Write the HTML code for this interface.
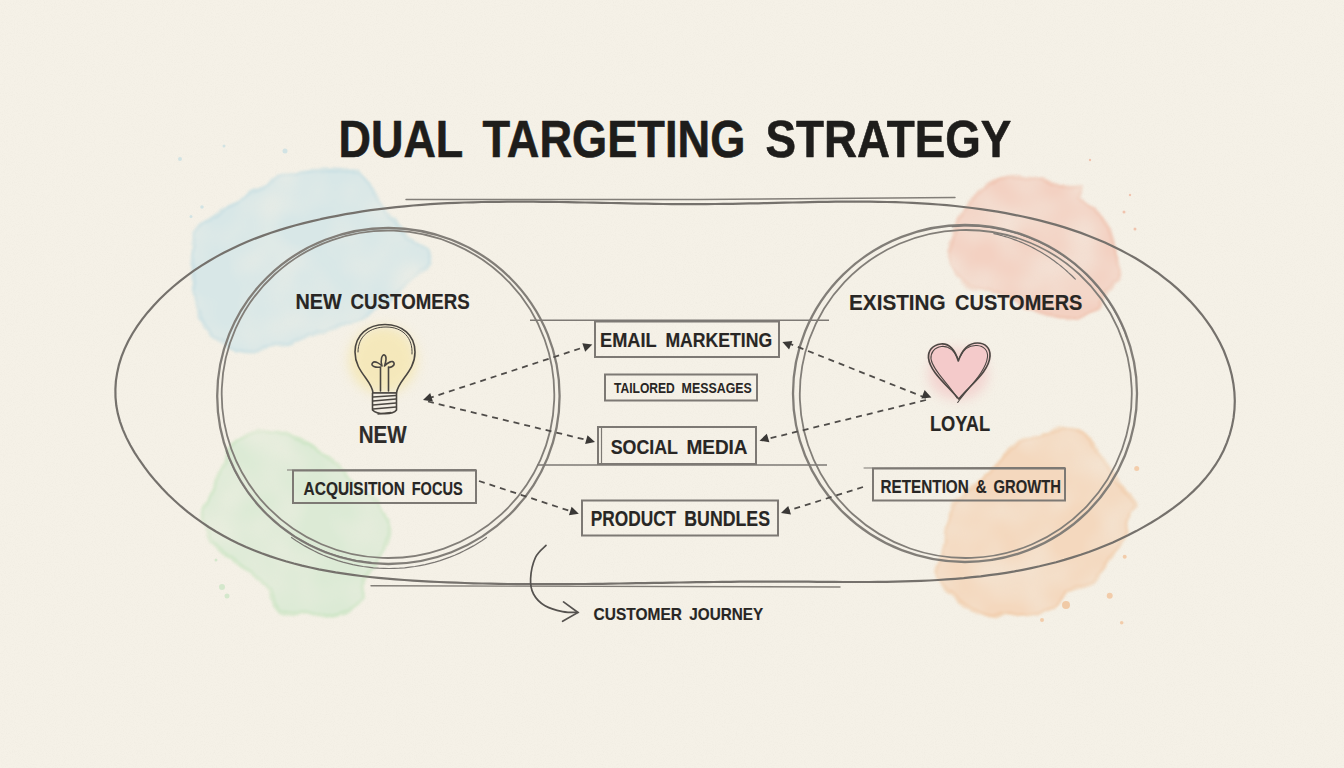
<!DOCTYPE html>
<html><head><meta charset="utf-8"><style>
html,body{margin:0;padding:0;width:1344px;height:768px;overflow:hidden;background:#f5f1e7;}
svg{display:block;font-family:"Liberation Sans",sans-serif;}
</style></head><body>
<svg width="1344" height="768" viewBox="0 0 1344 768">
<defs>
<filter id="wc1" x="-20%" y="-20%" width="140%" height="140%"><feTurbulence type="fractalNoise" baseFrequency="0.035" numOctaves="3" seed="7" result="n"/><feDisplacementMap in="SourceGraphic" in2="n" scale="10" xChannelSelector="R" yChannelSelector="G" result="d"/><feTurbulence type="fractalNoise" baseFrequency="0.02" numOctaves="2" seed="13" result="n2"/><feColorMatrix in="n2" type="matrix" values="0 0 0 0 0  0 0 0 0 0  0 0 0 0 0  0 0 0 1.2 0.25" result="m"/><feComposite in="d" in2="m" operator="in" result="c"/><feGaussianBlur in="c" stdDeviation="0.8"/></filter>
<filter id="wc2" x="-20%" y="-20%" width="140%" height="140%"><feTurbulence type="fractalNoise" baseFrequency="0.035" numOctaves="3" seed="14" result="n"/><feDisplacementMap in="SourceGraphic" in2="n" scale="10" xChannelSelector="R" yChannelSelector="G" result="d"/><feTurbulence type="fractalNoise" baseFrequency="0.02" numOctaves="2" seed="26" result="n2"/><feColorMatrix in="n2" type="matrix" values="0 0 0 0 0  0 0 0 0 0  0 0 0 0 0  0 0 0 1.2 0.25" result="m"/><feComposite in="d" in2="m" operator="in" result="c"/><feGaussianBlur in="c" stdDeviation="0.8"/></filter>
<filter id="wc3" x="-20%" y="-20%" width="140%" height="140%"><feTurbulence type="fractalNoise" baseFrequency="0.035" numOctaves="3" seed="21" result="n"/><feDisplacementMap in="SourceGraphic" in2="n" scale="10" xChannelSelector="R" yChannelSelector="G" result="d"/><feTurbulence type="fractalNoise" baseFrequency="0.02" numOctaves="2" seed="39" result="n2"/><feColorMatrix in="n2" type="matrix" values="0 0 0 0 0  0 0 0 0 0  0 0 0 0 0  0 0 0 1.2 0.25" result="m"/><feComposite in="d" in2="m" operator="in" result="c"/><feGaussianBlur in="c" stdDeviation="0.8"/></filter>
<filter id="wc4" x="-20%" y="-20%" width="140%" height="140%"><feTurbulence type="fractalNoise" baseFrequency="0.035" numOctaves="3" seed="28" result="n"/><feDisplacementMap in="SourceGraphic" in2="n" scale="10" xChannelSelector="R" yChannelSelector="G" result="d"/><feTurbulence type="fractalNoise" baseFrequency="0.02" numOctaves="2" seed="52" result="n2"/><feColorMatrix in="n2" type="matrix" values="0 0 0 0 0  0 0 0 0 0  0 0 0 0 0  0 0 0 1.2 0.25" result="m"/><feComposite in="d" in2="m" operator="in" result="c"/><feGaussianBlur in="c" stdDeviation="0.8"/></filter>
<filter id="paper" x="0" y="0" width="100%" height="100%"><feTurbulence type="fractalNoise" baseFrequency="0.9" numOctaves="2" seed="5" result="n"/><feColorMatrix in="n" type="matrix" values="0 0 0 0 0.45  0 0 0 0 0.42  0 0 0 0 0.36  0 0 0 -2.2 1.25"/></filter>
<filter id="soft" x="-20%" y="-20%" width="140%" height="140%"><feGaussianBlur stdDeviation="1.2"/></filter>
<filter id="soft2" x="-20%" y="-20%" width="140%" height="140%"><feGaussianBlur stdDeviation="2"/></filter>
<filter id="glow" x="-60%" y="-60%" width="220%" height="220%"><feGaussianBlur stdDeviation="6"/></filter>
</defs>
<rect width="1344" height="768" fill="#f5f1e7"/>
<rect width="1344" height="768" filter="url(#paper)" opacity="0.06"/>
<g filter="url(#wc1)">
<path d="M263.0,187.0 C271.8,182.2 279.0,176.8 291.0,174.0 C303.0,171.2 323.0,169.4 335.0,170.0 C347.0,170.6 355.7,172.1 363.0,177.5 C370.3,182.9 372.2,193.4 379.0,202.5 C385.8,211.6 395.8,224.1 404.0,232.0 C412.2,239.9 424.3,244.3 428.0,250.0 C431.7,255.7 429.2,260.8 426.0,266.0 C422.8,271.2 415.7,274.8 409.0,281.0 C402.3,287.2 395.0,296.5 386.0,303.0 C377.0,309.5 366.8,315.0 355.0,320.0 C343.2,325.0 326.8,328.8 315.0,333.0 C303.2,337.2 294.5,342.2 284.0,345.0 C273.5,347.8 261.7,350.2 252.0,350.0 C242.3,349.8 233.7,347.7 226.0,344.0 C218.3,340.3 210.8,334.3 206.0,328.0 C201.2,321.7 199.2,314.0 197.0,306.0 C194.8,298.0 193.5,289.3 193.0,280.0 C192.5,270.7 193.3,258.7 194.0,250.0 C194.7,241.3 193.8,233.7 197.0,228.0 C200.2,222.3 206.2,220.2 213.0,216.0 C219.8,211.8 229.7,207.3 238.0,202.5 C246.3,197.7 254.2,191.8 263.0,187.0 Z" fill="#d8e7e7" opacity="1.00"/>
<path d="M263.0,187.0 C271.8,182.2 279.0,176.8 291.0,174.0 C303.0,171.2 323.0,169.4 335.0,170.0 C347.0,170.6 355.7,172.1 363.0,177.5 C370.3,182.9 372.2,193.4 379.0,202.5 C385.8,211.6 395.8,224.1 404.0,232.0 C412.2,239.9 424.3,244.3 428.0,250.0 C431.7,255.7 429.2,260.8 426.0,266.0 C422.8,271.2 415.7,274.8 409.0,281.0 C402.3,287.2 395.0,296.5 386.0,303.0 C377.0,309.5 366.8,315.0 355.0,320.0 C343.2,325.0 326.8,328.8 315.0,333.0 C303.2,337.2 294.5,342.2 284.0,345.0 C273.5,347.8 261.7,350.2 252.0,350.0 C242.3,349.8 233.7,347.7 226.0,344.0 C218.3,340.3 210.8,334.3 206.0,328.0 C201.2,321.7 199.2,314.0 197.0,306.0 C194.8,298.0 193.5,289.3 193.0,280.0 C192.5,270.7 193.3,258.7 194.0,250.0 C194.7,241.3 193.8,233.7 197.0,228.0 C200.2,222.3 206.2,220.2 213.0,216.0 C219.8,211.8 229.7,207.3 238.0,202.5 C246.3,197.7 254.2,191.8 263.0,187.0 Z" fill="none" stroke="#c2dde2" stroke-width="4" opacity="0.55"/>
</g>
<g filter="url(#wc2)">
<path d="M981.6,189.6 C987.8,185.0 996.5,178.7 1006.0,177.0 C1015.5,175.3 1028.2,178.0 1038.5,179.7 C1048.8,181.4 1060.6,185.8 1068.0,187.0 C1075.4,188.2 1080.9,184.9 1083.0,187.0 C1085.1,189.1 1078.6,195.3 1080.6,199.5 C1082.6,203.7 1090.1,206.7 1095.0,212.0 C1099.9,217.3 1106.2,223.4 1110.0,231.6 C1113.8,239.8 1116.0,253.2 1117.7,261.0 C1119.4,268.8 1122.5,273.6 1120.0,278.6 C1117.5,283.6 1106.7,286.1 1103.0,291.0 C1099.3,295.9 1103.0,303.5 1098.0,308.0 C1093.0,312.5 1082.9,317.2 1073.0,318.0 C1063.1,318.8 1048.8,316.3 1038.5,313.0 C1028.2,309.7 1021.8,302.5 1011.0,298.4 C1000.2,294.3 983.4,292.6 974.0,288.5 C964.6,284.4 958.5,279.4 954.4,273.7 C950.3,267.9 949.1,261.4 949.5,254.0 C949.9,246.6 953.8,237.3 957.0,229.0 C960.2,220.7 964.9,211.0 969.0,204.4 C973.1,197.8 975.4,194.2 981.6,189.6 Z" fill="#f3d1c2" opacity="1.00"/>
<path d="M981.6,189.6 C987.8,185.0 996.5,178.7 1006.0,177.0 C1015.5,175.3 1028.2,178.0 1038.5,179.7 C1048.8,181.4 1060.6,185.8 1068.0,187.0 C1075.4,188.2 1080.9,184.9 1083.0,187.0 C1085.1,189.1 1078.6,195.3 1080.6,199.5 C1082.6,203.7 1090.1,206.7 1095.0,212.0 C1099.9,217.3 1106.2,223.4 1110.0,231.6 C1113.8,239.8 1116.0,253.2 1117.7,261.0 C1119.4,268.8 1122.5,273.6 1120.0,278.6 C1117.5,283.6 1106.7,286.1 1103.0,291.0 C1099.3,295.9 1103.0,303.5 1098.0,308.0 C1093.0,312.5 1082.9,317.2 1073.0,318.0 C1063.1,318.8 1048.8,316.3 1038.5,313.0 C1028.2,309.7 1021.8,302.5 1011.0,298.4 C1000.2,294.3 983.4,292.6 974.0,288.5 C964.6,284.4 958.5,279.4 954.4,273.7 C950.3,267.9 949.1,261.4 949.5,254.0 C949.9,246.6 953.8,237.3 957.0,229.0 C960.2,220.7 964.9,211.0 969.0,204.4 C973.1,197.8 975.4,194.2 981.6,189.6 Z" fill="none" stroke="#efbfab" stroke-width="4" opacity="0.55"/>
</g>
<g filter="url(#wc3)">
<path d="M245.9,434.0 C252.4,431.0 260.8,430.0 269.8,431.0 C278.8,432.0 289.8,435.5 299.8,440.0 C309.8,444.5 321.7,452.0 329.7,458.0 C337.7,464.0 340.7,469.0 347.7,476.0 C354.7,483.0 364.6,492.0 371.6,500.0 C378.6,508.0 387.1,515.8 389.6,523.8 C392.1,531.8 390.6,538.7 386.6,547.7 C382.6,556.7 370.1,568.7 365.6,577.7 C361.1,586.7 365.6,595.6 359.6,601.6 C353.6,607.6 341.7,611.6 329.7,613.6 C317.7,615.6 296.8,615.1 287.8,613.6 C278.8,612.1 281.3,610.6 275.8,604.6 C270.3,598.6 263.3,586.2 254.8,577.7 C246.3,569.2 232.9,560.7 224.9,553.7 C216.9,546.7 210.7,542.7 207.0,535.7 C203.3,528.7 201.5,519.3 202.5,511.8 C203.5,504.3 209.8,497.8 213.0,490.8 C216.2,483.8 219.0,477.0 222.0,470.0 C225.0,463.0 227.0,455.0 231.0,449.0 C235.0,443.0 239.4,437.0 245.9,434.0 Z" fill="#dceAd5" opacity="1.00"/>
<path d="M245.9,434.0 C252.4,431.0 260.8,430.0 269.8,431.0 C278.8,432.0 289.8,435.5 299.8,440.0 C309.8,444.5 321.7,452.0 329.7,458.0 C337.7,464.0 340.7,469.0 347.7,476.0 C354.7,483.0 364.6,492.0 371.6,500.0 C378.6,508.0 387.1,515.8 389.6,523.8 C392.1,531.8 390.6,538.7 386.6,547.7 C382.6,556.7 370.1,568.7 365.6,577.7 C361.1,586.7 365.6,595.6 359.6,601.6 C353.6,607.6 341.7,611.6 329.7,613.6 C317.7,615.6 296.8,615.1 287.8,613.6 C278.8,612.1 281.3,610.6 275.8,604.6 C270.3,598.6 263.3,586.2 254.8,577.7 C246.3,569.2 232.9,560.7 224.9,553.7 C216.9,546.7 210.7,542.7 207.0,535.7 C203.3,528.7 201.5,519.3 202.5,511.8 C203.5,504.3 209.8,497.8 213.0,490.8 C216.2,483.8 219.0,477.0 222.0,470.0 C225.0,463.0 227.0,455.0 231.0,449.0 C235.0,443.0 239.4,437.0 245.9,434.0 Z" fill="none" stroke="#c3e2bb" stroke-width="4" opacity="0.55"/>
</g>
<g filter="url(#wc4)">
<path d="M1034.8,437.0 C1043.8,433.5 1058.3,427.5 1067.8,428.0 C1077.3,428.5 1085.7,434.5 1091.7,440.0 C1097.7,445.5 1099.7,454.0 1103.7,461.0 C1107.7,468.0 1110.7,475.0 1115.7,482.0 C1120.7,489.0 1131.7,496.9 1133.7,502.9 C1135.7,508.9 1129.7,511.3 1127.7,517.8 C1125.7,524.3 1127.2,531.8 1121.7,541.8 C1116.2,551.8 1103.7,569.8 1094.7,577.8 C1085.7,585.8 1074.3,584.7 1067.8,589.7 C1061.3,594.7 1062.8,603.7 1055.8,607.7 C1048.8,611.7 1036.8,612.7 1025.8,613.7 C1014.8,614.7 1000.9,615.7 989.9,613.7 C978.9,611.7 968.9,607.7 959.9,601.7 C950.9,595.7 938.5,586.8 936.0,577.8 C933.5,568.8 943.0,556.8 945.0,547.8 C947.0,538.8 945.5,531.8 948.0,523.8 C950.5,515.8 952.9,508.9 959.9,499.9 C966.9,490.9 980.9,478.5 989.9,470.0 C998.9,461.5 1006.3,454.5 1013.8,449.0 C1021.3,443.5 1025.8,440.5 1034.8,437.0 Z" fill="#f4d8be" opacity="1.00"/>
<path d="M1034.8,437.0 C1043.8,433.5 1058.3,427.5 1067.8,428.0 C1077.3,428.5 1085.7,434.5 1091.7,440.0 C1097.7,445.5 1099.7,454.0 1103.7,461.0 C1107.7,468.0 1110.7,475.0 1115.7,482.0 C1120.7,489.0 1131.7,496.9 1133.7,502.9 C1135.7,508.9 1129.7,511.3 1127.7,517.8 C1125.7,524.3 1127.2,531.8 1121.7,541.8 C1116.2,551.8 1103.7,569.8 1094.7,577.8 C1085.7,585.8 1074.3,584.7 1067.8,589.7 C1061.3,594.7 1062.8,603.7 1055.8,607.7 C1048.8,611.7 1036.8,612.7 1025.8,613.7 C1014.8,614.7 1000.9,615.7 989.9,613.7 C978.9,611.7 968.9,607.7 959.9,601.7 C950.9,595.7 938.5,586.8 936.0,577.8 C933.5,568.8 943.0,556.8 945.0,547.8 C947.0,538.8 945.5,531.8 948.0,523.8 C950.5,515.8 952.9,508.9 959.9,499.9 C966.9,490.9 980.9,478.5 989.9,470.0 C998.9,461.5 1006.3,454.5 1013.8,449.0 C1021.3,443.5 1025.8,440.5 1034.8,437.0 Z" fill="none" stroke="#f1c7a0" stroke-width="4" opacity="0.55"/>
</g>
<g opacity="0.8">
<circle cx="180.0" cy="159.0" r="2.0" fill="#c9e0e3"/>
<circle cx="285.0" cy="151.0" r="2.5" fill="#c9e0e3"/>
<circle cx="202.0" cy="207.0" r="1.8" fill="#c9e0e3"/>
<circle cx="191.0" cy="216.5" r="1.5" fill="#c9e0e3"/>
<circle cx="224.0" cy="146.0" r="1.5" fill="#c9e0e3"/>
<circle cx="1124.0" cy="212.0" r="1.5" fill="#f0b9a0"/>
<circle cx="1135.0" cy="229.0" r="1.5" fill="#f0b9a0"/>
<circle cx="1130.0" cy="195.0" r="1.2" fill="#f0b9a0"/>
<circle cx="1090.0" cy="160.0" r="1.2" fill="#f0b9a0"/>
<circle cx="1136.7" cy="468.4" r="2.5" fill="#f2c49c"/>
<circle cx="1109.7" cy="595.7" r="3.0" fill="#f2c49c"/>
<circle cx="1121.7" cy="622.7" r="1.8" fill="#f2c49c"/>
<circle cx="1124.7" cy="556.8" r="2.0" fill="#f2c49c"/>
<circle cx="1066.0" cy="605.0" r="4.0" fill="#f0c197"/>
<circle cx="1042.0" cy="620.0" r="2.0" fill="#f2c49c"/>
<circle cx="222.0" cy="587.0" r="3.0" fill="#cde6c6"/>
<circle cx="227.0" cy="596.0" r="2.5" fill="#cde6c6"/>
<circle cx="216.0" cy="560.0" r="1.5" fill="#cde6c6"/>
</g>
<circle cx="383" cy="360" r="34" fill="#f5e6ad" opacity="0.75" filter="url(#glow)"/>
<ellipse cx="958" cy="374" rx="30" ry="26" fill="#f3c9c8" opacity="0.7" filter="url(#glow)"/>
<path d="M958.5,360 C954,347 947,343.5 941,344 C932,345 928,351 928.5,358 C930,372 947,385 958.8,399 C970,385 989,372 990,356 C990.5,348 985,343 977.5,343 C968,343 962,350 958.5,360 Z" fill="#f4caca" filter="url(#soft)"/>
<g fill="none" stroke="#75716c" stroke-width="2.2" stroke-linecap="round">
<path d="M320.5,219.2 L328.9,217.4 L337.2,215.8 L345.6,214.2 L354.0,212.8 L362.4,211.4 L370.8,210.2 L379.3,209.1 L387.7,208.1 L396.2,207.1 L404.7,206.3 L413.2,205.5 L421.7,204.8 L430.2,204.2 L438.7,203.7 L447.3,203.2 L455.8,202.9 L464.4,202.5 L473.0,202.3 L481.6,202.0 L490.2,201.9 L498.8,201.8 L507.4,201.7 L516.0,201.7 L524.6,201.7 L533.2,201.7 L541.9,201.8 L550.5,201.9 L559.2,202.0 L567.8,202.2 L576.5,202.3 L585.1,202.5 L593.8,202.7 L602.4,202.9 L611.1,203.0 L619.8,203.2 L628.4,203.4 L637.1,203.6 L645.8,203.7 L654.4,203.9 L663.1,204.0 L671.8,204.1 L680.4,204.1 L689.1,204.2 L697.7,204.2 L706.4,204.1 L715.0,204.0 L723.7,203.9 L732.3,203.8 L741.0,203.6 L749.6,203.4 L758.2,203.3 L766.9,203.1 L775.5,202.9 L784.1,202.6 L792.7,202.5 L801.3,202.3 L809.9,202.1 L818.5,201.9 L827.1,201.8 L835.7,201.7 L844.3,201.6 L852.8,201.6 L861.4,201.6 L870.0,201.7 L878.5,201.8 L887.0,202.0 L895.6,202.2 L904.1,202.5 L912.6,202.9 L921.2,203.4 L929.7,203.9 L938.2,204.5 L946.7,205.2 L955.1,206.0 L963.6,207.0 L972.1,208.0 L980.6,209.1 L989.0,210.3 L997.5,211.7 L1005.9,213.2 L1014.3,214.8 L1022.7,216.5 L1031.1,218.4 L1039.5,220.4 L1047.9,222.6 L1056.2,224.9 L1064.5,227.4 L1072.7,230.1 L1080.9,232.9 L1088.9,236.0 L1097.0,239.2 L1104.9,242.6 L1112.7,246.2 L1120.4,250.0 L1128.1,254.1 L1135.6,258.3 L1142.9,262.8 L1150.2,267.6 L1157.3,272.5 L1164.2,277.8 L1171.0,283.2 L1177.6,288.9 L1183.9,294.9 L1190.1,301.1 L1195.9,307.5 L1201.5,314.2 L1206.7,321.1 L1211.6,328.2 L1216.0,335.5 L1220.1,343.1 L1223.8,350.8 L1226.9,358.8 L1229.6,366.9 L1231.8,375.2 L1233.4,383.7 L1234.4,392.2 L1234.8,400.7 L1234.5,409.2 L1233.6,417.7 L1232.0,426.1 L1229.8,434.3 L1227.0,442.3 L1223.7,450.2 L1219.8,457.7 L1215.4,465.0 L1210.5,471.9 L1205.2,478.6 L1199.5,485.0 L1193.4,491.1 L1187.0,497.0 L1180.3,502.6 L1173.4,507.9 L1166.2,513.0 L1158.9,517.9 L1151.4,522.5 L1143.8,526.9 L1136.2,531.1 L1128.5,535.1 L1120.7,538.8 L1112.8,542.4 L1104.8,545.8 L1096.8,549.0 L1088.8,552.0 L1080.7,554.8 L1072.5,557.4 L1064.3,559.9 L1056.1,562.2 L1047.8,564.3 L1039.5,566.3 L1031.2,568.1 L1022.8,569.8 L1014.5,571.4 L1006.1,572.8 L997.6,574.1 L989.2,575.2 L980.7,576.3 L972.2,577.2 L963.7,578.1 L955.2,578.8 L946.6,579.4 L938.0,580.0 L929.5,580.5 L920.9,580.9 L912.3,581.2 L903.7,581.4 L895.0,581.6 L886.4,581.8 L877.8,581.9 L869.1,582.0 L860.5,582.0 L851.8,582.0 L843.2,582.0 L834.5,581.9 L825.8,581.9 L817.2,581.8 L808.5,581.7 L799.9,581.7 L791.2,581.6 L782.6,581.6 L774.0,581.6 L765.3,581.6 L756.7,581.6 L748.1,581.6 L739.5,581.7 L730.9,581.8 L722.3,581.9 L713.7,582.0 L705.1,582.1 L696.5,582.2 L687.9,582.4 L679.4,582.5 L670.8,582.7 L662.2,582.8 L653.6,582.9 L645.1,583.1 L636.5,583.2 L627.9,583.4 L619.4,583.5 L610.8,583.6 L602.2,583.8 L593.7,583.9 L585.1,584.0 L576.5,584.0 L568.0,584.1 L559.4,584.1 L550.8,584.2 L542.2,584.2 L533.7,584.2 L525.1,584.1 L516.5,584.1 L507.9,584.0 L499.3,583.8 L490.7,583.7 L482.1,583.5 L473.5,583.3 L464.9,583.0 L456.2,582.7 L447.6,582.4 L439.0,582.0 L430.3,581.6 L421.7,581.1 L413.0,580.6 L404.4,580.0 L395.7,579.4 L387.1,578.7 L378.4,577.9 L369.8,577.0 L361.2,576.0 L352.7,574.9 L344.1,573.7 L335.6,572.4 L327.2,570.9 L318.8,569.3 L310.4,567.5 L302.1,565.6 L293.9,563.5 L285.7,561.2 L277.6,558.7 L269.6,556.1 L261.6,553.3 L253.8,550.2 L246.0,546.9 L238.3,543.4 L230.7,539.7 L223.3,535.7 L215.9,531.5 L208.6,527.0 L201.5,522.2 L194.5,517.2 L187.6,511.9 L180.8,506.2 L174.2,500.3 L167.8,494.2 L161.6,487.8 L155.6,481.1 L149.9,474.3 L144.5,467.2 L139.4,460.0 L134.6,452.6 L130.2,445.0 L126.3,437.4 L122.9,429.6 L120.0,421.6 L117.8,413.6 L116.3,405.5 L115.5,397.3 L115.4,389.1 L115.9,380.9 L117.2,372.7 L119.0,364.6 L121.5,356.7 L124.6,348.9 L128.2,341.2 L132.4,333.7 L137.1,326.4 L142.1,319.3 L147.6,312.4 L153.5,305.7 L159.6,299.2 L166.1,293.0 L172.8,287.0 L179.6,281.3 L186.7,275.8 L193.9,270.7 L201.1,265.8 L208.6,261.2 L216.1,256.9 L223.7,252.7 L231.4,248.9 L239.2,245.2 L247.1,241.8 L255.0,238.6 L263.0,235.6 L271.1,232.7 L279.2,230.1 L287.4,227.6 L295.7,225.3 L303.9,223.1 L312.2,221.1 Z"/>
<path d="M406,199.5 L700,199.5 L955,197.5" stroke-width="1.4" opacity="0.9"/>
<path d="M371,585.7 L840,587" stroke-width="1.4" opacity="0.9"/>
</g>
<g fill="none" stroke="#827e78">
<ellipse cx="388.4" cy="396.0" rx="171.2" ry="168.0" transform="rotate(0.0 388.4 396.0)" stroke-width="2.3"/>
<ellipse cx="388.0" cy="394.3" rx="166.3" ry="163.7" transform="rotate(2.0 388.0 394.3)" stroke-width="1.8"/>
<ellipse cx="965.0" cy="393.5" rx="172.0" ry="168.5" transform="rotate(0.0 965.0 393.5)" stroke-width="2.3"/>
<ellipse cx="965.8" cy="394.0" rx="166.0" ry="164.0" transform="rotate(-2.0 965.8 394.0)" stroke-width="1.8"/>
</g>
<g fill="none" stroke="#7b7773" stroke-width="1.2" stroke-linecap="round">
<path d="M952.2,226.6 L957.7,226.3 L963.3,226.0 L968.9,226.0 L974.4,226.2 L980.0,226.5 L985.5,227.0 L991.0,227.7 L996.5,228.6 L1002.0,229.6 L1007.4,230.8 L1012.8,232.2 L1018.1,233.8 L1023.4,235.6 L1028.6,237.5 L1033.8,239.6 L1038.8,241.8 L1043.8,244.3 L1048.8,246.8 L1053.6,249.6 L1058.3,252.5 L1063.0,255.5 L1067.5,258.7 L1072.0,262.1 L1076.3,265.5 L1080.5,269.2 L1084.6,272.9 L1088.5,276.8 L1092.3,280.8 L1096.0,285.0 L1099.6,289.2 L1103.0,293.6 L1106.3,298.1 L1109.4,302.6 L1112.3,307.3 L1115.1,312.1 L1117.8,317.0 L1120.3,321.9 L1122.6,326.9 L1124.8,332.0 L1126.7,337.2"/>
<path d="M993.9,233.7 L996.2,234.2 L998.5,234.7 L1000.7,235.3 L1003.0,236.0 L1005.3,236.6 L1007.5,237.3 L1009.8,238.0 L1012.0,238.8 L1014.2,239.6 L1016.4,240.4 L1018.6,241.2 L1020.8,242.1 L1023.0,243.0 L1025.1,244.0 L1027.3,245.0 L1029.4,246.0 L1031.5,247.0 L1033.6,248.1 L1035.7,249.2 L1037.8,250.4 L1039.8,251.5 L1041.9,252.7 L1043.9,254.0 L1045.9,255.2 L1047.9,256.5 L1049.8,257.8 L1051.8,259.2 L1053.7,260.6 L1055.6,262.0 L1057.5,263.4 L1059.4,264.9 L1061.2,266.3 L1063.1,267.9 L1064.9,269.4 L1066.7,271.0 L1068.4,272.6 L1070.2,274.2 L1071.9,275.8 L1073.6,277.5 L1075.3,279.2"/>
<path d="M371.2,562.4 L366.4,561.9 L361.6,561.2 L356.8,560.5 L352.1,559.6 L347.4,558.6 L342.7,557.4 L338.1,556.1 L333.5,554.7 L328.9,553.1 L324.4,551.4 L319.9,549.6 L315.5,547.7 L311.1,545.6 L306.8,543.4 L302.6,541.1 L298.4,538.7 L294.3,536.2 L290.3,533.5 L286.4,530.8 L282.5,527.9 L278.7,524.9 L275.0,521.8 L271.4,518.6 L267.9,515.3 L264.5,511.9 L261.2,508.4 L257.9,504.8 L254.8,501.1 L251.8,497.4 L248.9,493.5 L246.1,489.6 L243.4,485.6 L240.9,481.5 L238.4,477.4 L236.1,473.1 L233.9,468.9 L231.8,464.5 L229.8,460.1 L228.0,455.7 L226.3,451.1"/>
<path d="M486.5,537.5 L482.2,540.4 L477.8,543.2 L473.4,545.9 L468.8,548.4 L464.2,550.8 L459.5,553.1 L454.7,555.2 L449.9,557.1 L445.0,558.9 L440.1,560.6 L435.1,562.1 L430.1,563.4 L425.1,564.6 L420.0,565.6 L414.9,566.5 L409.7,567.2 L404.6,567.8 L399.4,568.2 L394.2,568.4 L389.0,568.5 L383.8,568.4 L378.6,568.2 L373.4,567.8 L368.3,567.2 L363.1,566.5 L358.0,565.6 L352.9,564.6 L347.9,563.4 L342.9,562.1 L337.9,560.6 L333.0,558.9 L328.1,557.1 L323.3,555.2 L318.5,553.1 L313.8,550.8 L309.2,548.4 L304.6,545.9 L300.2,543.2 L295.8,540.4 L291.5,537.5"/>
</g>
<g stroke="#7d7974" stroke-width="1.6">
<path d="M530,320.2 L829,320.2"/>
<path d="M537,465 L827,465"/>
</g>
<g fill="none" stroke="#7d7974" stroke-width="2">
<rect x="595.0" y="321.5" width="184.0" height="35.5"/>
<rect x="605.0" y="374.5" width="152.0" height="26.0"/>
<rect x="598.0" y="427.0" width="158.0" height="37.0"/>
<rect x="582.0" y="500.5" width="196.0" height="35.0"/>
<rect x="293.0" y="470.5" width="183.0" height="32.5"/>
<rect x="873.0" y="468.5" width="192.0" height="32.0"/>
</g>
<g stroke="#7d7974" stroke-width="1.2" fill="none">
<path d="M287,470 L476,469.5"/><path d="M863.6,468 L1065,467.5"/><path d="M601.5,427 L601.5,464"/>
</g>
<g stroke="#4f4c49" stroke-width="1.8" stroke-dasharray="6,5" fill="none">
<path d="M428.0,398.5 L586.0,346.5"/>
<path d="M428.0,401.5 L589.0,440.5"/>
<path d="M926.0,398.0 L788.0,343.0"/>
<path d="M926.0,400.0 L765.0,439.5"/>
<path d="M479.0,481.0 L573.0,512.0"/>
<path d="M863.0,487.0 L787.0,511.0"/>
</g>
<g fill="#3a3836">
<path d="M423.0,400.0 L430.2,393.0 L432.9,401.6 Z"/>
<path d="M592.3,344.6 L585.2,351.7 L582.3,343.2 Z"/>
<path d="M595.0,442.0 L585.1,444.0 L587.5,435.3 Z"/>
<path d="M931.4,397.5 L921.4,398.5 L924.6,390.1 Z"/>
<path d="M782.4,341.9 L792.4,341.1 L789.1,349.4 Z"/>
<path d="M759.5,440.7 L766.8,433.7 L769.4,442.3 Z"/>
<path d="M578.8,513.8 L568.9,515.3 L571.6,506.7 Z"/>
<path d="M781.0,513.0 L788.2,505.9 L791.0,514.5 Z"/>
</g>
<g fill="none" stroke="#55524f" stroke-width="1.7" stroke-linecap="round">
<path d="M546.0,545.4 C544.2,547.4 538.1,551.8 535.5,557.4 C532.9,563.0 530.9,572.6 530.6,578.7 C530.3,584.8 531.1,589.5 533.5,594.0 C535.9,598.5 540.1,602.9 545.0,605.8 C549.9,608.7 557.1,610.5 562.6,611.6 C568.1,612.7 575.4,612.4 578.0,612.5"/>
<path d="M563.5,601.9 L578,612.5 L562.6,621.3"/>
</g>
<g fill="none" stroke="#4a4641" stroke-width="1.6" stroke-linecap="round" stroke-linejoin="round">
<path d="M373,393 C372,380 355,372 355,352 C355,335 368,324.5 385,324.5 C402,324.5 415,335 415,352 C415,372 398,380 396.5,393 Z"/>
<path d="M358,352 C358,336 370,327 386,327 C403,327 413,338 412,354" stroke-width="1"/>
<path d="M380.5,391 L380.5,367 M388.5,391 L388.5,367 M380.5,367 C376,368 370,366 372.5,363 C375,360 380,364 382,366 C380,360 382,354 384.5,355 C387,356 386,362 384.5,366 C388,362 393,360 394,363 C395,366 390,368 388.5,367"/>
<path d="M372.5,393 L396.5,393 L396.5,410 C393,415 377,415 372.5,410 Z" fill="#f3eee4"/>
<path d="M373,397 L396,395.5 M373,401 L396,399 M373,405 L396,403 M373,409 L396,407 M378,414 L391,412.5" stroke-width="1.3"/>
</g>
<g fill="none" stroke="#4c4743" stroke-width="1.7" stroke-linejoin="round" stroke-linecap="round">
<path d="M958.3,361 C954,347 947,343.5 941,344 C932,345 928,351 928.5,358 C930,372 947,385 958.8,399 C970,385 989,372 990,356 C990.5,348 985,343 977.5,343 C968,343 962,350 958.3,361"/>
<path d="M957.5,358 C953,348 946,346 941.5,346.5 C934,347.5 930.5,353 931,359 C933,371 949,384 957,398 M960,357 C964,348 970,345 977,345.5 C984,346 988,350.5 987.5,357 C986,371 970,386 959.5,400 L957.7,402.5" stroke-width="1.1"/>
</g>
<g font-family="Liberation Sans, sans-serif">
<text x="338.5" y="157.2" font-size="51.0" font-weight="bold" fill="#1e1d1b" stroke="#1e1d1b" stroke-width="0.60" stroke-linejoin="round" textLength="124.8" lengthAdjust="spacingAndGlyphs">DUAL</text>
<text x="482.5" y="157.2" font-size="51.0" font-weight="bold" fill="#1e1d1b" stroke="#1e1d1b" stroke-width="0.60" stroke-linejoin="round" textLength="262.8" lengthAdjust="spacingAndGlyphs">TARGETING</text>
<text x="765.5" y="157.2" font-size="51.0" font-weight="bold" fill="#1e1d1b" stroke="#1e1d1b" stroke-width="0.60" stroke-linejoin="round" textLength="245.8" lengthAdjust="spacingAndGlyphs">STRATEGY</text>
<text x="295.5" y="309.0" font-size="21.5" font-weight="bold" fill="#282624" stroke="#282624" stroke-width="0.15" stroke-linejoin="round" textLength="46.3" lengthAdjust="spacingAndGlyphs">NEW</text>
<text x="350.6" y="309.0" font-size="21.5" font-weight="bold" fill="#282624" stroke="#282624" stroke-width="0.15" stroke-linejoin="round" textLength="119.2" lengthAdjust="spacingAndGlyphs">CUSTOMERS</text>
<text x="849.0" y="309.5" font-size="22.7" font-weight="bold" fill="#282624" stroke="#282624" stroke-width="0.15" stroke-linejoin="round" textLength="96.7" lengthAdjust="spacingAndGlyphs">EXISTING</text>
<text x="955.1" y="309.5" font-size="22.7" font-weight="bold" fill="#282624" stroke="#282624" stroke-width="0.15" stroke-linejoin="round" textLength="127.3" lengthAdjust="spacingAndGlyphs">CUSTOMERS</text>
<text x="600.0" y="346.8" font-size="20.1" font-weight="bold" fill="#282624" stroke="#282624" stroke-width="0.15" stroke-linejoin="round" textLength="56.7" lengthAdjust="spacingAndGlyphs">EMAIL</text>
<text x="665.4" y="346.8" font-size="20.1" font-weight="bold" fill="#282624" stroke="#282624" stroke-width="0.15" stroke-linejoin="round" textLength="106.7" lengthAdjust="spacingAndGlyphs">MARKETING</text>
<text x="614.0" y="393.4" font-size="14.4" font-weight="bold" fill="#282624" stroke="#282624" stroke-width="0.00" stroke-linejoin="round" textLength="60.8" lengthAdjust="spacingAndGlyphs">TAILORED</text>
<text x="681.6" y="393.4" font-size="14.4" font-weight="bold" fill="#282624" stroke="#282624" stroke-width="0.00" stroke-linejoin="round" textLength="70.2" lengthAdjust="spacingAndGlyphs">MESSAGES</text>
<text x="610.7" y="453.6" font-size="20.8" font-weight="bold" fill="#282624" stroke="#282624" stroke-width="0.15" stroke-linejoin="round" textLength="67.3" lengthAdjust="spacingAndGlyphs">SOCIAL</text>
<text x="686.4" y="453.6" font-size="20.8" font-weight="bold" fill="#282624" stroke="#282624" stroke-width="0.15" stroke-linejoin="round" textLength="61.2" lengthAdjust="spacingAndGlyphs">MEDIA</text>
<text x="590.7" y="525.9" font-size="21.2" font-weight="bold" fill="#282624" stroke="#282624" stroke-width="0.15" stroke-linejoin="round" textLength="85.5" lengthAdjust="spacingAndGlyphs">PRODUCT</text>
<text x="684.3" y="525.9" font-size="21.2" font-weight="bold" fill="#282624" stroke="#282624" stroke-width="0.15" stroke-linejoin="round" textLength="85.7" lengthAdjust="spacingAndGlyphs">BUNDLES</text>
<text x="303.6" y="494.7" font-size="18.5" font-weight="bold" fill="#282624" stroke="#282624" stroke-width="0.15" stroke-linejoin="round" textLength="101.2" lengthAdjust="spacingAndGlyphs">ACQUISITION</text>
<text x="411.7" y="494.7" font-size="18.5" font-weight="bold" fill="#282624" stroke="#282624" stroke-width="0.15" stroke-linejoin="round" textLength="50.9" lengthAdjust="spacingAndGlyphs">FOCUS</text>
<text x="880.5" y="492.8" font-size="17.9" font-weight="bold" fill="#282624" stroke="#282624" stroke-width="0.15" stroke-linejoin="round" textLength="88.3" lengthAdjust="spacingAndGlyphs">RETENTION</text>
<text x="975.8" y="492.8" font-size="17.9" font-weight="bold" fill="#282624" stroke="#282624" stroke-width="0.15" stroke-linejoin="round" textLength="10.9" lengthAdjust="spacingAndGlyphs">&amp;</text>
<text x="993.6" y="492.8" font-size="17.9" font-weight="bold" fill="#282624" stroke="#282624" stroke-width="0.15" stroke-linejoin="round" textLength="67.4" lengthAdjust="spacingAndGlyphs">GROWTH</text>
<text x="358.7" y="442.6" font-size="23.1" font-weight="bold" fill="#2e2c2a" stroke="#2e2c2a" stroke-width="0.15" stroke-linejoin="round" textLength="48.0" lengthAdjust="spacingAndGlyphs">NEW</text>
<text x="929.9" y="431.4" font-size="21.5" font-weight="bold" fill="#282624" stroke="#282624" stroke-width="0.15" stroke-linejoin="round" textLength="60.3" lengthAdjust="spacingAndGlyphs">LOYAL</text>
<text x="593.6" y="619.6" font-size="16.7" font-weight="bold" fill="#282624" stroke="#282624" stroke-width="0.15" stroke-linejoin="round" textLength="88.3" lengthAdjust="spacingAndGlyphs">CUSTOMER</text>
<text x="689.3" y="619.6" font-size="16.7" font-weight="bold" fill="#282624" stroke="#282624" stroke-width="0.15" stroke-linejoin="round" textLength="73.9" lengthAdjust="spacingAndGlyphs">JOURNEY</text>
</g>
</svg>
</body></html>
